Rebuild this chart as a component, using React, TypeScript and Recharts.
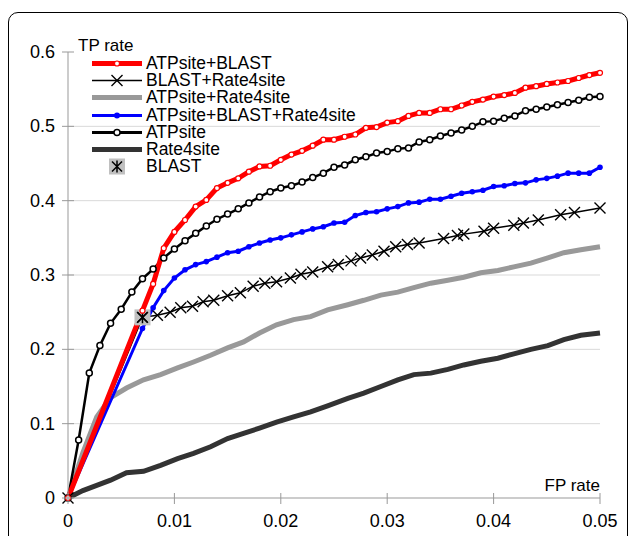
import React from 'react';
import { ComposedChart, Line, Scatter, XAxis, YAxis, CartesianGrid, Legend } from 'recharts';

// FP rate sampled every 0.001 (markers of the marked series sit on these)
const fpStep = [
  0, 0.001, 0.002, 0.003, 0.004, 0.005, 0.006, 0.007, 0.008, 0.009,
  0.01, 0.011, 0.012, 0.013, 0.014, 0.015, 0.016, 0.017, 0.018, 0.019,
  0.02, 0.021, 0.022, 0.023, 0.024, 0.025, 0.026, 0.027, 0.028, 0.029,
  0.03, 0.031, 0.032, 0.033, 0.034, 0.035, 0.036, 0.037, 0.038, 0.039,
  0.04, 0.041, 0.042, 0.043, 0.044, 0.045, 0.046, 0.047, 0.048, 0.049, 0.05,
];

const atpsiteBlastTp = [
  0, null, null, null, null, null, null, 0.252, 0.288, 0.336,
  0.358, 0.374, 0.392, 0.401, 0.417, 0.424, 0.43, 0.439, 0.446, 0.447,
  0.455, 0.462, 0.467, 0.474, 0.482, 0.482, 0.486, 0.489, 0.498, 0.499,
  0.505, 0.507, 0.514, 0.518, 0.518, 0.523, 0.523, 0.528, 0.533, 0.536,
  0.54, 0.542, 0.545, 0.552, 0.554, 0.557, 0.559, 0.561, 0.565, 0.569, 0.572,
];

const allThreeTp = [
  0, null, null, null, null, null, null, 0.228, 0.256, 0.279,
  0.296, 0.307, 0.314, 0.318, 0.324, 0.33, 0.332, 0.338, 0.343, 0.347,
  0.35, 0.354, 0.358, 0.362, 0.365, 0.37, 0.371, 0.38, 0.384, 0.385,
  0.389, 0.392, 0.397, 0.398, 0.402, 0.402, 0.406, 0.41, 0.412, 0.414,
  0.419, 0.42, 0.423, 0.424, 0.428, 0.43, 0.433, 0.437, 0.437, 0.437, 0.445,
];

const atpsiteTp = [
  0, 0.078, 0.168, 0.205, 0.235, 0.254, 0.277, 0.295, 0.308, 0.323,
  0.335, 0.346, 0.356, 0.366, 0.375, 0.382, 0.389, 0.397, 0.405, 0.412,
  0.417, 0.42, 0.425, 0.431, 0.437, 0.445, 0.448, 0.455, 0.459, 0.464,
  0.466, 0.47, 0.471, 0.479, 0.482, 0.487, 0.491, 0.495, 0.5, 0.506,
  0.507, 0.511, 0.514, 0.521, 0.523, 0.526, 0.529, 0.532, 0.535, 0.539, 0.54,
];

// BLAST+Rate4site markers are unevenly spaced
const blastR4sFp = [
  0, 0.007, 0.0084, 0.0096, 0.0106, 0.0117, 0.0127, 0.0137, 0.015, 0.0162,
  0.0174, 0.0185, 0.0196, 0.0209, 0.0219, 0.023, 0.0244, 0.0254, 0.0266, 0.0275,
  0.0286, 0.0297, 0.0308, 0.0319, 0.033, 0.0353, 0.0366, 0.0372, 0.0391, 0.04,
  0.0419, 0.0428, 0.0442, 0.0463, 0.0476, 0.05,
];
const blastR4sTp = [
  0, 0.243, 0.246, 0.25, 0.256, 0.258, 0.264, 0.266, 0.272, 0.276,
  0.285, 0.289, 0.291, 0.296, 0.301, 0.304, 0.311, 0.314, 0.319, 0.323,
  0.327, 0.332, 0.338, 0.341, 0.343, 0.349, 0.353, 0.355, 0.359, 0.363,
  0.367, 0.37, 0.374, 0.381, 0.384, 0.39,
];

// unmarked series
const fpFine = [
  0, 0.0014, 0.0027, 0.004, 0.0055, 0.0071, 0.0087, 0.0103, 0.0118, 0.0134,
  0.015, 0.0165, 0.018, 0.0196, 0.0212, 0.0228, 0.0244, 0.0263, 0.0278, 0.0294,
  0.031, 0.0325, 0.0341, 0.0357, 0.0372, 0.0388, 0.0404, 0.0419, 0.0435, 0.0451,
  0.0466, 0.0482, 0.05,
];
const atpsiteR4sTp = [
  0, 0.061, 0.109, 0.135, 0.148, 0.159, 0.166, 0.175, 0.183, 0.192,
  0.202, 0.21, 0.222, 0.233, 0.24, 0.244, 0.253, 0.26, 0.266, 0.273,
  0.277, 0.283, 0.289, 0.293, 0.297, 0.303, 0.306, 0.311, 0.316, 0.323,
  0.33, 0.334, 0.338,
];
const rate4siteTp = [
  0, 0.01, 0.017, 0.024, 0.034, 0.036, 0.044, 0.053, 0.06, 0.069,
  0.08, 0.087, 0.094, 0.102, 0.109, 0.116, 0.124, 0.134, 0.141, 0.15,
  0.159, 0.166, 0.168, 0.173, 0.179, 0.184, 0.188, 0.194, 0.2, 0.205,
  0.213, 0.219, 0.222,
];

const blastFp = [0.007];
const blastTp = [0.243];

const seriesNames = [
  'ATPsite+BLAST',
  'BLAST+Rate4site',
  'ATPsite+Rate4site',
  'ATPsite+BLAST+Rate4site',
  'ATPsite',
  'Rate4site',
  'BLAST',
];

const xTicks = [0, 0.01, 0.02, 0.03, 0.04, 0.05];
const yTicks = [0, 0.1, 0.2, 0.3, 0.4, 0.5, 0.6];
const gridValues = [0.1, 0.2, 0.3, 0.4, 0.5];

const FONT = '"Liberation Sans", Arial, sans-serif';

const toPoints = (xs: number[], ys: (number | null)[]) => xs.map((fp, i) => ({ fp, tp: ys[i] }));

const crossPath = (cx: number, cy: number, s: number) =>
  `M${cx - s},${cy - s}L${cx + s},${cy + s}M${cx - s},${cy + s}L${cx + s},${cy - s}`;

const CrossDot = (p: any) => {
  if (p.cx == null || p.cy == null) return <g key={`x-${p.index}`} />;
  return <path key={`x-${p.index}`} d={crossPath(p.cx, p.cy, 5.5)} stroke="#000" strokeWidth={1.4} fill="none" />;
};

const BlastMark = ({ cx, cy }: { cx: number; cy: number }) => (
  <g>
    <rect x={cx - 8} y={cy - 8} width={16} height={16} fill="#c0c0c0" />
    <path d={crossPath(cx, cy, 5) + `M${cx},${cy - 6}L${cx},${cy + 6}`} stroke="#000" strokeWidth={1.5} fill="none" />
  </g>
);

// tickMargin 13 on the y axis: axis line sits at x + 13
const YTick = ({ x, y, payload }: any) => (
  <g>
    <line x1={x + 7} x2={x + 19} y1={y} y2={y} stroke="#999" />
    <text x={x} y={y} dy={6} textAnchor="end" fontSize={18} fontFamily={FONT} fill="#000">
      {payload.value}
    </text>
  </g>
);

// tickMargin 16 on the x axis: axis line sits at y - 16
const XTick = ({ x, y, payload }: any) => (
  <g>
    <line x1={x} x2={x} y1={y - 21} y2={y - 10} stroke="#999" />
    <text x={x} y={y} dy={13} textAnchor="middle" fontSize={18} fontFamily={FONT} fill="#000">
      {payload.value}
    </text>
  </g>
);

const LegendSymbol = ({ i }: { i: number }) => {
  const c = 25;
  const m = 8.5;
  switch (i) {
    case 0:
      return (
        <g>
          <line x1={0} x2={50} y1={m} y2={m} stroke="#ff0000" strokeWidth={5} />
          <circle cx={c} cy={m} r={2.5} fill="#fff" stroke="#ff0000" strokeWidth={1.2} />
        </g>
      );
    case 1:
      return (
        <g>
          <line x1={0} x2={50} y1={m} y2={m} stroke="#000" strokeWidth={1.5} />
          <path d={crossPath(c, m, 5.5)} stroke="#000" strokeWidth={1.4} />
        </g>
      );
    case 2:
      return <line x1={0} x2={50} y1={m} y2={m} stroke="#999" strokeWidth={5} />;
    case 3:
      return (
        <g>
          <line x1={0} x2={50} y1={m} y2={m} stroke="#0000ff" strokeWidth={3} />
          <circle cx={c} cy={m} r={3} fill="#0000ff" />
        </g>
      );
    case 4:
      return (
        <g>
          <line x1={0} x2={50} y1={m} y2={m} stroke="#000" strokeWidth={3} />
          <circle cx={c} cy={m} r={3} fill="#fff" stroke="#000" strokeWidth={1.5} />
        </g>
      );
    case 5:
      return <line x1={0} x2={50} y1={m} y2={m} stroke="#333" strokeWidth={5} />;
    default:
      return <BlastMark cx={c} cy={m} />;
  }
};

const LegendBox = () => (
  <div style={{ fontFamily: FONT, fontSize: 17.5, color: '#000' }}>
    {seriesNames.map((name, i) => (
      <div key={name} style={{ display: 'flex', alignItems: 'center', height: 17.2, lineHeight: '17px' }}>
        <svg width={50} height={17} style={{ overflow: 'visible' }}>
          <LegendSymbol i={i} />
        </svg>
        <span style={{ marginLeft: 4, whiteSpace: 'nowrap' }}>{name}</span>
      </div>
    ))}
  </div>
);

export default function App() {
  const redData = toPoints(fpStep, atpsiteBlastTp);
  const blueData = toPoints(fpStep, allThreeTp);
  const atpData = toPoints(fpStep, atpsiteTp);
  const crossData = toPoints(blastR4sFp, blastR4sTp);
  const greyData = toPoints(fpFine, atpsiteR4sTp);
  const darkData = toPoints(fpFine, rate4siteTp);
  const blastData = toPoints(blastFp, blastTp);

  return (
    <div style={{ position: 'absolute', left: 0, top: 0, width: 630, height: 536, overflow: 'hidden', background: '#fff' }}>
      <div
        style={{
          position: 'absolute', left: 8, top: 12, width: 620, height: 580,
          border: '1.5px solid #000', borderRadius: 10, boxSizing: 'border-box',
        }}
      />
      <ComposedChart width={630} height={536} margin={{ top: 52, right: 30, bottom: 0, left: 0 }} style={{ position: 'absolute', left: 0, top: 0 }}>
        <CartesianGrid vertical={false} horizontalValues={gridValues} stroke="#d9d9d9" />
        <XAxis
          type="number" dataKey="fp" domain={[0, 0.05]} ticks={xTicks} height={38}
          tickSize={0} tickMargin={16} tickLine={false} axisLine={{ stroke: '#999' }}
          tick={<XTick />} interval={0}
        />
        <YAxis
          type="number" dataKey="tp" domain={[0, 0.6]} ticks={yTicks} width={68}
          tickSize={0} tickMargin={13} tickLine={false} axisLine={{ stroke: '#999' }}
          tick={<YTick />} interval={0}
        />
        <Legend
          layout="vertical" align="center" verticalAlign="middle"
          content={() => <LegendBox />}
          wrapperStyle={{ left: 92, top: 55, width: 'auto', height: 'auto' }}
        />
        <Line data={darkData} dataKey="tp" name="Rate4site" stroke="#333" strokeWidth={5} dot={false} isAnimationActive={false} legendType="none" />
        <Line data={greyData} dataKey="tp" name="ATPsite+Rate4site" stroke="#999" strokeWidth={5} dot={false} isAnimationActive={false} legendType="none" />
        <Line data={crossData} dataKey="tp" name="BLAST+Rate4site" stroke="#000" strokeWidth={1.5} dot={CrossDot} isAnimationActive={false} legendType="none" />
        <Line
          data={blueData} dataKey="tp" name="ATPsite+BLAST+Rate4site" stroke="#0000ff" strokeWidth={3}
          connectNulls dot={{ r: 2.8, fill: '#0000ff', stroke: '#0000ff', strokeWidth: 0 }} isAnimationActive={false} legendType="none"
        />
        <Line
          data={atpData} dataKey="tp" name="ATPsite" stroke="#000" strokeWidth={2.5}
          dot={{ r: 3, fill: '#fff', stroke: '#000', strokeWidth: 1.5 }} isAnimationActive={false} legendType="none"
        />
        <Line
          data={redData} dataKey="tp" name="ATPsite+BLAST" stroke="#ff0000" strokeWidth={5}
          connectNulls dot={{ r: 2.5, fill: '#fff', stroke: '#ff0000', strokeWidth: 1.2 }} isAnimationActive={false} legendType="none"
        />
        <Scatter data={blastData} dataKey="tp" name="BLAST" shape={(p: any) => <BlastMark cx={p.cx} cy={p.cy} />} isAnimationActive={false} legendType="none" />
      </ComposedChart>
      <div style={{ position: 'absolute', left: 78, top: 37, fontFamily: FONT, fontSize: 17, lineHeight: '18px' }}>TP rate</div>
      <div style={{ position: 'absolute', right: 30, top: 477, fontFamily: FONT, fontSize: 17, lineHeight: '18px' }}>FP rate</div>
    </div>
  );
}
